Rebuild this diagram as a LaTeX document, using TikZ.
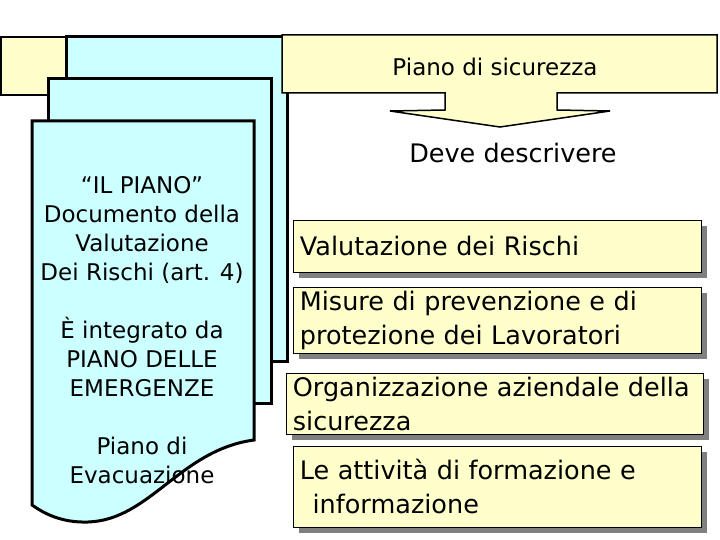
\documentclass[tikz,border=0pt]{standalone}
\usepackage{fontspec}
\setmainfont{DejaVu Sans}
\usetikzlibrary{shadows}
\definecolor{sheetblue}{HTML}{CCFFFF}
\definecolor{boxyellow}{HTML}{FFFFCC}
\definecolor{shadowgray}{HTML}{808080}
\begin{document}
\begin{tikzpicture}[x=1pt,y=-1pt,
  sheet/.style={fill=sheetblue,draw=black,line width=3pt,line join=miter},
  callout/.style={fill=boxyellow,draw=black,line width=1.5pt},
  ybox/.style={fill=boxyellow,draw=black,line width=0.8pt,anchor=north west,
    inner xsep=6pt,align=left,
    font=\fontsize{25.5}{34}\selectfont,
    drop shadow={shadow xshift=6pt,shadow yshift=-6pt,fill=shadowgray,opacity=1}},
  doctext/.style={align=center,font=\fontsize{23}{29}\selectfont}]
\useasboundingbox (0,0) rectangle (720,540);
\fill[white] (0,0) rectangle (720,540);
% left part of yellow banner (behind sheets)
\draw[callout] (1,37) rectangle (120,95);
% stacked sheets
\draw[sheet] (66,37) rectangle (287,361);
\draw[sheet] (48,79) rectangle (271,403);
\draw[sheet] (32,121) -- (254,121) -- (254,440)
  .. controls (180,450) and (150,520) .. (88,522)
  .. controls (60,523) and (42,512) .. (32,505) -- cycle;
\node[doctext] (doc) at (142,330) {“IL PIANO”\\Documento della\\Valutazione\\Dei Rischi (art. 4)\\[29pt]È integrato da\\PIANO DELLE\\EMERGENZE\\[29pt]Piano di\\Evacuazione};
% callout arrow
\draw[callout] (282,35) -- (717,35) -- (717,93) -- (557,93) -- (557,110) -- (610,111)
  -- (500,127) -- (390,111) -- (445,110) -- (445,93) -- (282,93) -- cycle;
\node[font=\fontsize{23}{28}\selectfont] (title) at (495,67) {Piano di sicurezza};
\node[font=\fontsize{25.5}{30}\selectfont] (deve) at (513,153) {Deve descrivere};
% boxes
\node[ybox,minimum width=408pt,minimum height=52pt,text width=395pt] (b1) at (293,220) {Valutazione dei Rischi};
\node[ybox,minimum width=408pt,minimum height=66pt,text width=395pt] (b2) at (293,287) {Misure di prevenzione e di\\protezione dei Lavoratori};
\node[ybox,minimum width=417pt,minimum height=61pt,text width=404pt,inner xsep=4pt] (b3) at (286,373) {Organizzazione aziendale della\\sicurezza};
\node[ybox,minimum width=408pt,minimum height=81pt,text width=395pt] (b4) at (293,446) {Le attività di formazione e\\\hspace*{0.5em}informazione};
\end{tikzpicture}
\end{document}
